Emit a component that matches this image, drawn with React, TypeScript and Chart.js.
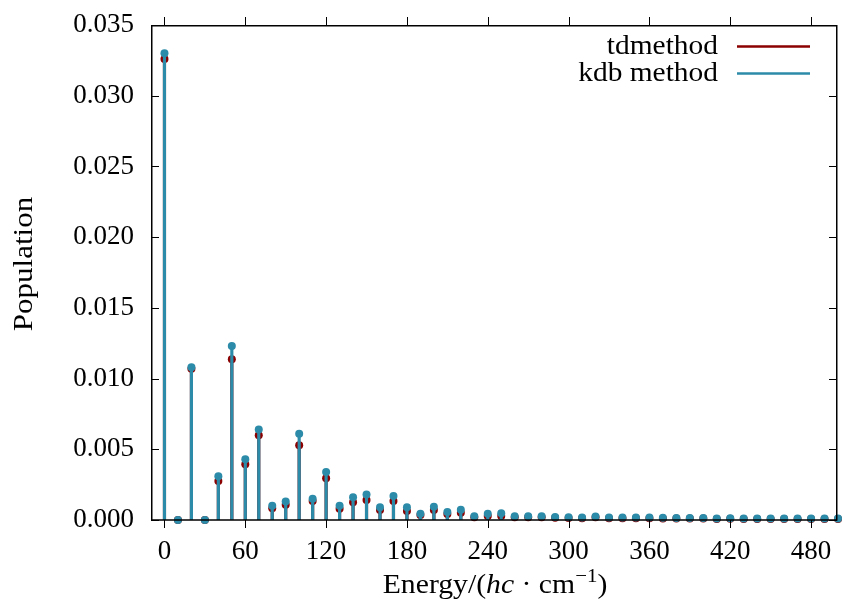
import React, { useEffect, useRef } from 'react';
import { Chart, registerables } from 'chart.js';

Chart.register(...registerables);

const energies = [
  0, 10, 20, 30, 40, 50, 60, 70, 80, 90,
  100, 110, 120, 130, 140, 150, 160, 170, 180, 190,
  200, 210, 220, 230, 240, 250, 260, 270, 280, 290,
  300, 310, 320, 330, 340, 350, 360, 370, 380, 390,
  400, 410, 420, 430, 440, 450, 460, 470, 480, 490, 500,
];

const tdValues = [
  0.0326, 0, 0.0107, 0, 0.00276, 0.01136, 0.00394, 0.00599, 0.00083, 0.00108,
  0.00528, 0.00134, 0.00295, 0.0008, 0.00125, 0.00141, 0.00071, 0.00134, 0.00064, 0.00035,
  0.00071, 0.00042, 0.00052, 0.00019, 0.00028, 0.00028, 0.0002, 0.0002, 0.00019, 0.00016,
  0.00015, 0.00013, 0.00019, 0.00012, 0.00012, 0.00012, 0.00012, 0.00011, 0.0001, 0.0001,
  0.0001, 0.00007, 0.00008, 0.00007, 0.00007, 0.00007, 0.00007, 0.00007, 0.00007, 0.00007, 0.00007,
];

const kdbValues = [
  0.033, 0, 0.0108, 0, 0.0031, 0.0123, 0.0043, 0.0064, 0.001, 0.0013,
  0.0061, 0.0015, 0.0034, 0.001, 0.0016, 0.0018, 0.0009, 0.0017, 0.0009, 0.00045,
  0.00094, 0.00057, 0.00073, 0.00026, 0.00045, 0.00047, 0.00026, 0.00026, 0.00026, 0.00021,
  0.0002, 0.00018, 0.00025, 0.00017, 0.00017, 0.00017, 0.00017, 0.00016, 0.00015, 0.00015,
  0.00015, 0.0001, 0.00012, 0.0001, 0.0001, 0.0001, 0.0001, 0.0001, 0.0001, 0.0001, 0.0001,
];

const xTickValues = [0, 60, 120, 180, 240, 300, 360, 420, 480];
const yTickValues = [0, 0.005, 0.01, 0.015, 0.02, 0.025, 0.03, 0.035];
const seriesNames = ['tdmethod', 'kdb method'];
const yTitle = 'Population';

const TD_COLOR = '#8b0000';
const KDB_COLOR = '#2c8ba8';
const FONT = '"Liberation Serif", "Times New Roman", serif';
const FS = 27;

export default function App() {
  const ref = useRef<HTMLCanvasElement>(null);

  useEffect(() => {
    const toPts = (vals: number[]) => energies.map((x, i) => ({ x, y: vals[i] }));

    const zeroPad = (s: any) => {
      s.paddingTop = 0;
      s.paddingBottom = 0;
      s.paddingLeft = 0;
      s.paddingRight = 0;
    };

    const stretchText = (ctx: any, t: string, x: number, y: number, k: number) => {
      ctx.save();
      ctx.translate(x, y);
      ctx.scale(k, 1);
      ctx.fillText(t, 0, 0);
      ctx.restore();
    };

    const framePlugin = {
      id: 'frameAndText',
      afterDraw(chart: any) {
        const { ctx, chartArea: a, scales } = chart;
        const xs = scales.x;
        const ys = scales.y;
        ctx.save();
        // ticks
        ctx.strokeStyle = '#000';
        ctx.lineWidth = 1;
        ctx.beginPath();
        xTickValues.forEach((v) => {
          const px = Math.round(xs.getPixelForValue(v)) + 0.5;
          ctx.moveTo(px, a.bottom);
          ctx.lineTo(px, a.bottom + 8);
          ctx.moveTo(px, a.top);
          ctx.lineTo(px, a.top - 8);
        });
        yTickValues.forEach((v) => {
          const py = Math.round(ys.getPixelForValue(v)) + 0.5;
          ctx.moveTo(a.left, py);
          ctx.lineTo(a.left + 8, py);
          ctx.moveTo(a.right - 1, py);
          ctx.lineTo(a.right - 9, py);
        });
        ctx.stroke();
        // frame
        ctx.lineWidth = 1.5;
        ctx.strokeRect(a.left + 0.75, a.top + 0.75, a.right - a.left - 2, a.bottom - a.top - 0.75);

        // legend
        ctx.font = `${FS}px ${FONT}`;
        ctx.textAlign = 'right';
        ctx.textBaseline = 'alphabetic';
        const legColors = [TD_COLOR, KDB_COLOR];
        seriesNames.forEach((name, i) => {
          const base = 54 + i * 27;
          ctx.fillStyle = '#000';
          stretchText(ctx, name, 718, base, 1.09);
          ctx.strokeStyle = legColors[i];
          ctx.lineWidth = 2.5;
          ctx.beginPath();
          ctx.moveTo(737, base - 7.5);
          ctx.lineTo(810, base - 7.5);
          ctx.stroke();
        });

        // y title
        ctx.save();
        ctx.translate(32, 264);
        ctx.rotate(-Math.PI / 2);
        ctx.textAlign = 'center';
        ctx.fillStyle = '#000';
        ctx.font = `${FS}px ${FONT}`;
        stretchText(ctx, yTitle, 0, 0, 1.15);
        ctx.restore();

        // x title: Energy/(hc · cm^-1)
        const k = 1.1;
        const parts: [string, string, number][] = [
          ['Energy/(', `${FS}px ${FONT}`, 0],
          ['hc', `italic ${FS}px ${FONT}`, 0],
          [' \u00b7 cm', `${FS}px ${FONT}`, 0],
          ['\u22121', `${Math.round(FS * 0.7)}px ${FONT}`, -11],
          [')', `${FS}px ${FONT}`, 0],
        ];
        let total = 0;
        const widths = parts.map(([t, f]) => {
          ctx.font = f;
          const w = ctx.measureText(t).width * k;
          total += w;
          return w;
        });
        let cx = 495 - total / 2;
        ctx.textAlign = 'left';
        ctx.fillStyle = '#000';
        parts.forEach(([t, f, dy], i) => {
          ctx.font = f;
          stretchText(ctx, t, cx, 593 + dy, k);
          cx += widths[i];
        });
        ctx.restore();
      },
    };

    const chart = new Chart(ref.current as HTMLCanvasElement, {
      type: 'bar',
      data: {
        datasets: [
          {
            type: 'bar',
            label: seriesNames[0],
            data: toPts(tdValues),
            backgroundColor: TD_COLOR,
            barThickness: 2.5,
            grouped: false,
            order: 4,
          } as any,
          {
            type: 'scatter',
            label: seriesNames[0] + ' points',
            data: toPts(tdValues),
            backgroundColor: TD_COLOR,
            borderColor: TD_COLOR,
            pointRadius: 4,
            borderWidth: 0,
            clip: false,
            order: 3,
          } as any,
          {
            type: 'bar',
            label: seriesNames[1],
            data: toPts(kdbValues),
            backgroundColor: KDB_COLOR,
            barThickness: 2.5,
            grouped: false,
            order: 2,
          } as any,
          {
            type: 'scatter',
            label: seriesNames[1] + ' points',
            data: toPts(kdbValues),
            backgroundColor: KDB_COLOR,
            borderColor: KDB_COLOR,
            pointRadius: 4,
            borderWidth: 0,
            clip: false,
            order: 1,
          } as any,
        ],
      },
      options: {
        responsive: false,
        animation: false,
        layout: { padding: { top: 25, right: 0, left: 0, bottom: 0 } },
        plugins: { legend: { display: false }, tooltip: { enabled: false } },
        scales: {
          x: {
            type: 'linear',
            min: -10,
            max: 500,
            offset: false,
            grid: { display: false, drawTicks: false },
            border: { display: false },
            afterBuildTicks: (s: any) => {
              s.ticks = xTickValues.map((v) => ({ value: v }));
            },
            afterFit: (s: any) => {
              s.height = 90;
              zeroPad(s);
            },
            ticks: {
              autoSkip: false,
              maxRotation: 0,
              padding: 16,
              color: '#000',
              font: { family: FONT, size: FS },
              callback: (v: any) => String(v),
            },
          },
          y: {
            type: 'linear',
            min: 0,
            max: 0.035,
            grid: { display: false, drawTicks: false },
            border: { display: false },
            afterBuildTicks: (s: any) => {
              s.ticks = yTickValues.map((v) => ({ value: v }));
            },
            afterFit: (s: any) => {
              s.width = 151;
              zeroPad(s);
            },
            ticks: {
              padding: 17,
              color: '#000',
              font: { family: FONT, size: FS },
              callback: (v: any) => Number(v).toFixed(3),
            },
          },
        },
      },
      plugins: [framePlugin],
    });
    return () => chart.destroy();
  }, []);

  return (
    <div style={{ position: 'fixed', left: 0, top: 0, width: 842, height: 610, background: '#fff' }}>
      <canvas ref={ref} width={842} height={610} style={{ display: 'block' }} />
    </div>
  );
}
